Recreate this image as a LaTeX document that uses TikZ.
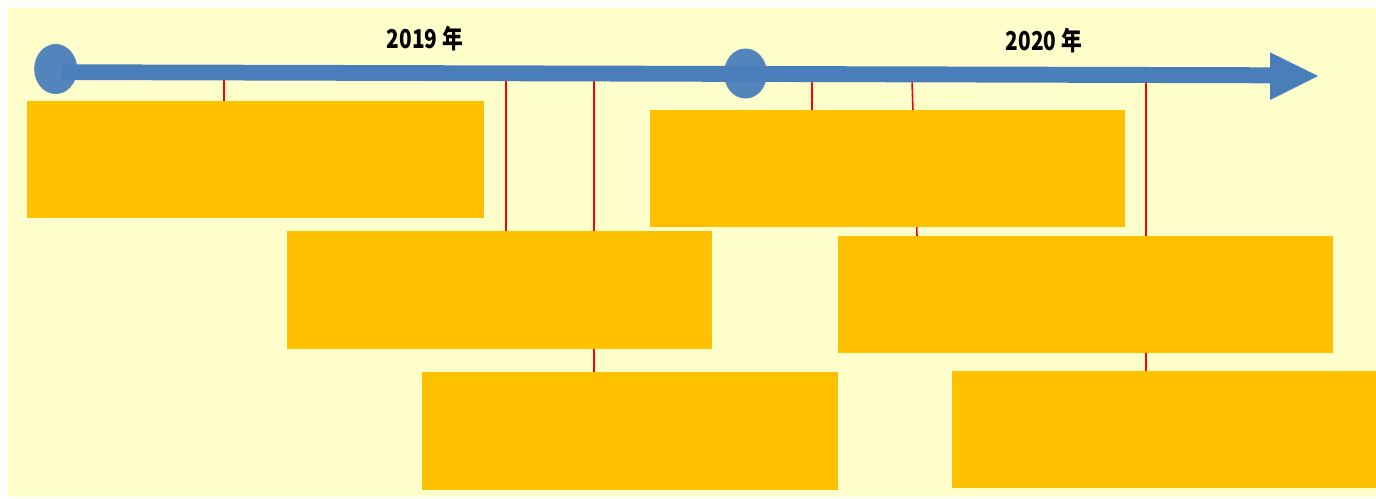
\documentclass[tikz,border=0pt]{standalone}
\usepackage{fontspec}
\usetikzlibrary{shapes.geometric}
\newfontfamily\cjk{Noto Sans CJK SC}
\definecolor{bgyellow}{HTML}{FFFFCC}
\definecolor{boxorange}{HTML}{FFC000}
\definecolor{lineblue}{HTML}{4A7EBB}
\definecolor{tickred}{HTML}{FF0000}
\begin{document}
\begin{tikzpicture}[x=1pt,y=-1pt,
  evbox/.style={fill=boxorange,draw=none,inner sep=0pt,anchor=north west},
  dot/.style={ellipse,fill=lineblue,draw=none,minimum width=43pt,minimum height=50pt,inner sep=0pt},
  tick/.style={draw=tickred,line width=1.6pt},
  year/.style={font=\cjk\bfseries\fontsize{26}{28}\selectfont,xscale=0.8,inner sep=0pt}]
\useasboundingbox (0,0) rectangle (1376,498);
\fill[white] (0,0) rectangle (1376,498);
\fill[bgyellow] (8,8) rectangle (1376,497);
% tick anchor points on the shaft
\coordinate (t1) at (224,78);
\coordinate (t2) at (506,79);
\coordinate (t3) at (594,79);
\coordinate (t4) at (812,80);
\coordinate (t5) at (912,80);
\coordinate (t6) at (1146,81);
\coordinate (t5e) at (917,236);
% connectors (drawn first, behind boxes)
\draw[tick] (t1) -- (224,101);
\draw[tick] (t2) -- (506,231);
\draw[tick] (t3) -- (594,372);
\draw[tick] (t4) -- (812,110);
\draw[tick] (t5) -- (t5e);
\draw[tick] (t6) -- (1146,371);
% event boxes
\node[evbox,minimum width=457pt,minimum height=117pt] (A) at (27,101) {};
\node[evbox,minimum width=475pt,minimum height=117pt] (D) at (650,110) {};
\node[evbox,minimum width=425pt,minimum height=118pt] (B) at (287,231) {};
\node[evbox,minimum width=495pt,minimum height=117pt] (E) at (838,236) {};
\node[evbox,minimum width=416pt,minimum height=118pt] (C) at (422,372) {};
\node[evbox,minimum width=424pt,minimum height=117pt] (F) at (952,371) {};
% timeline shaft and head
\coordinate (tip) at (1318,76);
\fill[lineblue] (62,64.3) -- (1270,67.3) -- (1270,52.3) -- (tip) -- (1270,100) -- (1270,83.3) -- (62,80) -- cycle;
\node[dot,opacity=0.95] (s1) at (55.7,69) {};
\node[dot,opacity=0.95] (s2) at (745.5,73.5) {};
% year labels
\node[year] (y1) at (425,38.5) {2019 年};
\node[year] (y2) at (1044,41) {2020 年};
\end{tikzpicture}
\end{document}
